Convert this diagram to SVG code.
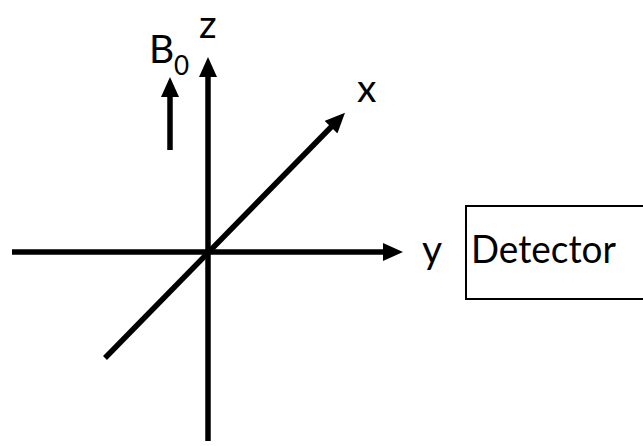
<svg xmlns="http://www.w3.org/2000/svg" width="643" height="446" viewBox="0 0 643 446">
<style>
.ax{stroke:#000;stroke-width:5.5;fill:none;marker-end:url(#ah)}
.lb{font-family:Lato,"Open Sans","Liberation Sans",sans-serif;font-size:39px;fill:#000}
.sub{font-family:Lato,"Open Sans","Liberation Sans",sans-serif;font-size:26px;fill:#000}
</style>
<defs>
<marker id="ah" markerUnits="userSpaceOnUse" markerWidth="20" markerHeight="18" viewBox="0 0 20 18" refX="10" refY="9" orient="auto">
<path d="M0,0 L20,9 L0,18 Z" fill="#000"/>
</marker>
</defs>
<rect width="643" height="446" fill="#fff"/>
<g id="connectors">
<line class="ax" x1="12" y1="252" x2="393" y2="252"/>
<line class="ax" x1="208" y1="441" x2="208" y2="67"/>
<line class="ax" x1="105" y1="358" x2="338" y2="120"/>
<line class="ax" x1="170" y1="150" x2="170" y2="87"/>
</g>
<g id="labels">
<text class="lb" x="199" y="38">z</text>
<text class="lb" x="357" y="102">x</text>
<text class="lb" x="422" y="263">y</text>
<text class="lb" x="149" y="63">B</text>
<text class="sub" x="174" y="75">0</text>
</g>
<g id="detector">
<rect x="466" y="206" width="200" height="93" fill="none" stroke="#000" stroke-width="2"/>
<text class="lb" x="471" y="263" textLength="145" lengthAdjust="spacingAndGlyphs">Detector</text>
</g>
</svg>
